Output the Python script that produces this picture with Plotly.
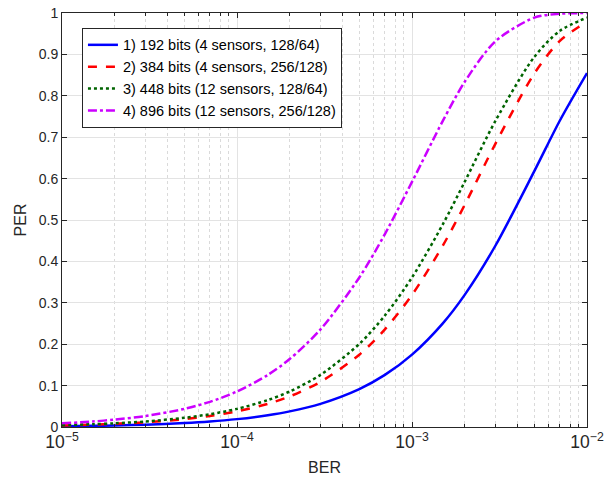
import plotly.graph_objects as go

ber = [1e-5, 1.5e-5, 2e-5, 3e-5, 5e-5, 7e-5, 1e-4, 1.5e-4, 2e-4, 3e-4, 5e-4, 7e-4,
       1e-3, 1.5e-3, 2e-3, 3e-3, 5e-3, 7e-3, 1e-2]
per_192 = [0.0019, 0.0029, 0.0038, 0.0057, 0.0096, 0.0133, 0.0190, 0.0284, 0.0377, 0.0560,
           0.0916, 0.1258, 0.1748, 0.2504, 0.3191, 0.4384, 0.618, 0.7404, 0.855]
per_384 = [0.0038, 0.0057, 0.0077, 0.0114, 0.0190, 0.0265, 0.0377, 0.0560, 0.0739, 0.1090,
           0.1747, 0.2358, 0.319, 0.4381, 0.5364, 0.6846, 0.854, 0.9326, 0.979]
per_448 = [0.0045, 0.0067, 0.0089, 0.0133, 0.0222, 0.0309, 0.0438, 0.0650, 0.0857, 0.1260,
           0.2007, 0.2692, 0.3612, 0.4896, 0.5922, 0.7397, 0.894, 0.957, 0.989]
per_896 = [0.0089, 0.0133, 0.0178, 0.0265, 0.0438, 0.0608, 0.0857, 0.1258, 0.1641, 0.2357,
           0.3612, 0.466, 0.592, 0.7395, 0.8337, 0.932, 0.9888, 0.9981, 0.9999]
names = ["1) 192 bits (4 sensors, 128/64)", "2) 384 bits (4 sensors, 256/128)",
         "3) 448 bits (12 sensors, 128/64)", "4) 896 bits (12 sensors, 256/128)"]
colors = ["#0000FF", "#FF0000", "#006400", "#CC00FF"]
dashes = ["solid", "dash", "dot", "dashdot"]
y_ticks = [0, 0.1, 0.2, 0.3, 0.4, 0.5, 0.6, 0.7, 0.8, 0.9, 1]

fig = go.Figure()
for ys, n, c, d in zip([per_192, per_384, per_448, per_896], names, colors, dashes):
    fig.add_trace(go.Scatter(x=ber, y=ys, name=n, mode="lines",
                             line=dict(color=c, width=2.5, dash=d, shape="spline", smoothing=0.8)))

axis_common = dict(showline=True, linecolor="#262626", linewidth=1, mirror="ticks",
                   ticks="inside", ticklen=5, tickcolor="#262626", automargin=False,
                   showgrid=True, gridcolor="#E3E3E3", gridwidth=1, zeroline=False,
                   ticklabeloverflow="allow",
                   tickfont=dict(size=14, color="#262626"))

fig.update_xaxes(type="log", range=[-5, -2], dtick=1, exponentformat="power",
                 title=dict(text="BER", font=dict(size=16, color="#262626"), standoff=10),
                 minor=dict(ticks="inside", ticklen=3, tickcolor="#262626", showgrid=True,
                            griddash="dot", gridcolor="#DADADA", gridwidth=1),
                 **axis_common)
fig.update_yaxes(range=[0, 1], tickvals=y_ticks, ticktext=[f"{v:g}" for v in y_ticks],
                 title=dict(text="PER", font=dict(size=16, color="#262626"), standoff=8),
                 **axis_common)

fig.update_layout(
    template="none",
    width=605, height=484,
    margin=dict(l=62, r=18, t=13, b=57),
    paper_bgcolor="white", plot_bgcolor="white",
    font=dict(family="Liberation Sans, Arial, sans-serif", color="#262626"),
    showlegend=True,
    legend=dict(x=0.038, y=0.964, xanchor="left", yanchor="top",
                bgcolor="white", bordercolor="#262626", borderwidth=1,
                font=dict(size=14.5, color="#000000"), tracegroupgap=0,
                itemwidth=30),
)

fig.write_html("out.html", config={"displayModeBar": False},
               post_script="document.body.style.margin='0';")
